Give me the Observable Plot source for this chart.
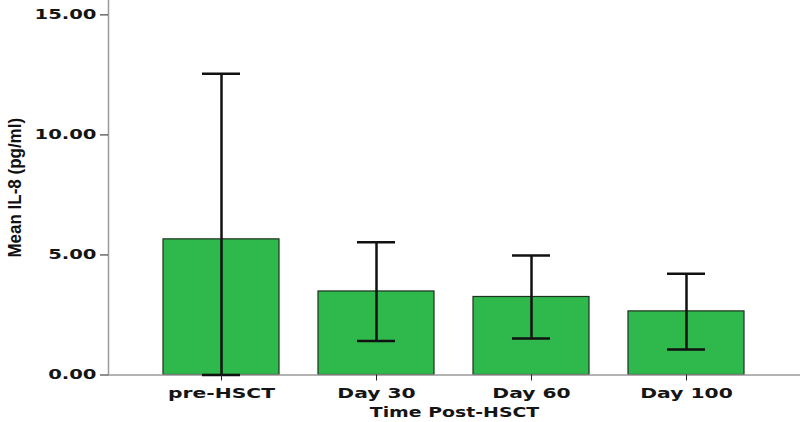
<!DOCTYPE html>
<html><head><meta charset="utf-8">
<script src="https://cdn.jsdelivr.net/npm/d3@7"></script>
<script src="https://cdn.jsdelivr.net/npm/@observablehq/plot@0.6"></script>
<style>body{margin:0;background:#fff}</style>
</head><body><div id="chart"></div>
<script>
const categories = ["pre-HSCT", "Day 30", "Day 60", "Day 100"];
const means = [5.65, 3.48, 3.25, 2.65];
const lower = [0, 1.42, 1.52, 1.06];
const upper = [12.55, 5.53, 4.98, 4.22];
const yTicks = [0, 5, 10, 15];
const xTitle = "Time Post-HSCT";
const yTitle = "Mean IL-8 (pg/ml)";

const data = categories.map((c, i) => ({cat: c, mean: means[i], lo: lower[i], hi: upper[i]}));
const font = "'DejaVu Sans', Verdana, sans-serif";

const chart = Plot.plot({
  width: 800, height: 422,
  marginLeft: 108, marginRight: 0, marginTop: 0, marginBottom: 47.5,
  style: {fontFamily: font, fontWeight: "bold", background: "#fff", color: "#151515"},
  x: {domain: categories, paddingInner: 0.25, paddingOuter: 0.35, label: null, axis: null},
  y: {domain: [0, 15.6], label: null, axis: null},
  marks: [
    Plot.barY(data, {x: "cat", y: "mean", fill: "#2fb84b", stroke: "#1e301e", strokeWidth: 1.2}),
    Plot.ruleY([0], {stroke: "#9a9a9a", strokeWidth: 1.5}),
    Plot.frame({anchor: "left", stroke: "#9a9a9a", strokeWidth: 1.5}),
    Plot.ruleX(data, {x: "cat", y1: "lo", y2: "hi", stroke: "#111", strokeWidth: 2.5}),
    Plot.tickY(data, {x: "cat", y: "lo", inset: 39, stroke: "#111", strokeWidth: 2.5}),
    Plot.tickY(data, {x: "cat", y: "hi", inset: 39, stroke: "#111", strokeWidth: 2.5}),
    Plot.axisY({ticks: yTicks, tickFormat: d => d.toFixed(2), tickSize: 8, tickPadding: 4, fontSize: 14, label: null, stroke: "#222"}),
    Plot.axisX({tickSize: 6, tickPadding: 7, fontSize: 14, label: null, stroke: "#222"}),
    Plot.text([yTitle], {frameAnchor: "left", dx: -93, rotate: -90, textAnchor: "middle", lineAnchor: "middle", fontFamily: "'Liberation Sans', Arial, sans-serif", fontSize: 17, fontWeight: "bold", fill: "#111"}),
    Plot.text([xTitle], {frameAnchor: "bottom", dy: 38, textAnchor: "middle", lineAnchor: "middle", fontSize: 13.5})
  ]
});
document.getElementById("chart").appendChild(chart);

function stretchText(t, s) {
  let tr = t.getAttribute("transform") || "";
  const xa = t.getAttribute("x"), ya = t.getAttribute("y");
  const xn = xa !== null && !isNaN(+xa) ? +xa : null;
  const yn = ya !== null && !isNaN(+ya) ? +ya : null;
  if (xn !== null || yn !== null) {
    tr += ` translate(${xn || 0},${yn || 0})`;
    if (xn !== null) t.removeAttribute("x");
    if (yn !== null) t.removeAttribute("y");
  }
  t.setAttribute("transform", tr + " " + s);
}
chart.querySelectorAll('[aria-label="y-axis tick label"] text').forEach(t => stretchText(t, "scale(1.4,1)"));
chart.querySelectorAll('[aria-label="x-axis tick label"] text').forEach(t => stretchText(t, "scale(1.45,1)"));
chart.querySelectorAll("text").forEach(t => {
  if (t.textContent === xTitle) stretchText(t, "scale(1.4,1)");
  if (t.textContent === yTitle) stretchText(t, "scale(1,1.05)");
});
</script>
</body></html>
